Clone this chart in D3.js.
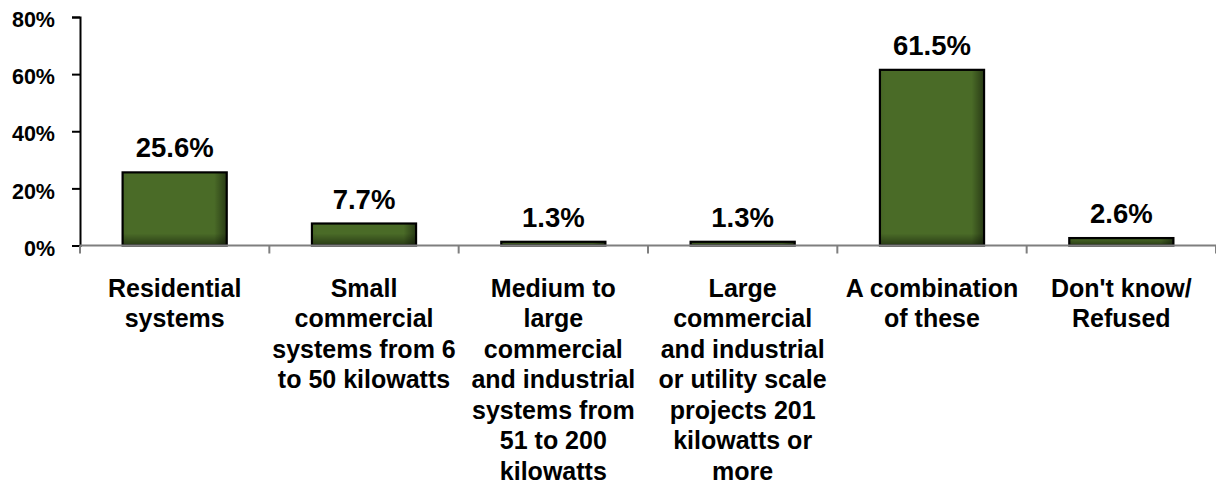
<!DOCTYPE html>
<html>
<head>
<meta charset="utf-8">
<script src="https://cdn.jsdelivr.net/npm/d3@7"></script>
<style>
  html, body { margin: 0; padding: 0; background: #fff; }
  svg { display: block; }
  text { font-family: "Liberation Sans", Arial, sans-serif; font-weight: bold; fill: #000; }
</style>
</head>
<body>
<svg id="chart" width="1216" height="485"></svg>
<script>
const categories = [
  "Residential systems",
  "Small commercial systems from 6 to 50 kilowatts",
  "Medium to large commercial and industrial systems from 51 to 200 kilowatts",
  "Large commercial and industrial or utility scale projects 201 kilowatts or more",
  "A combination of these",
  "Don't know/ Refused"
];
const categoryLines = [
  ["Residential", "systems"],
  ["Small", "commercial", "systems from 6", "to 50 kilowatts"],
  ["Medium to", "large", "commercial", "and industrial", "systems from", "51 to 200", "kilowatts"],
  ["Large", "commercial", "and industrial", "or utility scale", "projects 201", "kilowatts or", "more"],
  ["A combination", "of these"],
  ["Don't know/", "Refused"]
];
const values = [25.6, 7.7, 1.3, 1.3, 61.5, 2.6];
const yTicks = [0, 20, 40, 60, 80];

(function () {
const svg = d3.select("#chart");
const mLeft = 80, mRight = 1216, mTop = 17, mBottom = 245.5;

const x = d3.scaleBand().domain(categories).range([mLeft, mRight]).paddingInner(0.45).paddingOuter(0.225);
const y = d3.scaleLinear().domain([0, 80]).range([mBottom, mTop]);

const defs = svg.append("defs");
const gh = defs.append("linearGradient").attr("id", "shadeH").attr("x1", 0).attr("x2", 1).attr("y1", 0).attr("y2", 0);
gh.append("stop").attr("offset", "0").attr("stop-color", "#000").attr("stop-opacity", 0.04);
gh.append("stop").attr("offset", "0.06").attr("stop-color", "#000").attr("stop-opacity", 0);
gh.append("stop").attr("offset", "0.88").attr("stop-color", "#000").attr("stop-opacity", 0);
gh.append("stop").attr("offset", "1").attr("stop-color", "#000").attr("stop-opacity", 0.45);
const gv = defs.append("linearGradient").attr("id", "shadeV").attr("x1", 0).attr("x2", 0).attr("y1", 0).attr("y2", 1);
gv.append("stop").attr("offset", "0").attr("stop-color", "#000").attr("stop-opacity", 0);
gv.append("stop").attr("offset", "1").attr("stop-color", "#000").attr("stop-opacity", 0.45);

const bars = svg.append("g");
const data = categories.map((c, i) => ({ c, v: values[i] }));
bars.selectAll("rect.base").data(data).join("rect")
  .attr("class", "base")
  .attr("x", d => x(d.c)).attr("width", x.bandwidth())
  .attr("y", d => y(d.v)).attr("height", d => y(0) - y(d.v))
  .attr("fill", "#4a6b27");
bars.selectAll("rect.sh").data(data).join("rect")
  .attr("class", "sh")
  .attr("x", d => x(d.c)).attr("width", x.bandwidth())
  .attr("y", d => y(d.v)).attr("height", d => y(0) - y(d.v))
  .attr("fill", "url(#shadeH)");
bars.selectAll("rect.sv").data(data).join("rect")
  .attr("class", "sv")
  .attr("x", d => x(d.c)).attr("width", x.bandwidth())
  .attr("y", d => y(0) - Math.min(12, y(0) - y(d.v))).attr("height", d => Math.min(12, y(0) - y(d.v)))
  .attr("fill", "url(#shadeV)");
bars.selectAll("rect.outline").data(data).join("rect")
  .attr("class", "outline")
  .attr("x", d => x(d.c)).attr("width", x.bandwidth())
  .attr("y", d => y(d.v)).attr("height", d => y(0) - y(d.v))
  .attr("fill", "none").attr("stroke", "#000").attr("stroke-width", 2.2);

svg.append("g").selectAll("text").data(data).join("text")
  .attr("x", d => x(d.c) + x.bandwidth() / 2)
  .attr("y", d => y(d.v) - 15)
  .attr("text-anchor", "middle")
  .style("font-size", "27.5px")
  .text(d => d.v.toFixed(1) + "%");

const yAxis = svg.append("g").attr("transform", `translate(${mLeft},0)`)
  .call(d3.axisLeft(y).tickValues(yTicks).tickFormat(d => d + "%").tickSize(8).tickPadding(17));
yAxis.attr("font-size", null).attr("font-family", null);
yAxis.select(".domain").attr("stroke", "#000").attr("stroke-width", 2);
yAxis.selectAll(".tick line").attr("stroke", "#000").attr("stroke-width", 2);
yAxis.selectAll(".tick text").style("font-size", "21.5px").attr("dy", "0.45em")
  .style("font-family", "'Liberation Sans', Arial, sans-serif").style("font-weight", "bold");

const step = x.step();
const xg = svg.append("g");
xg.append("line").attr("x1", mLeft).attr("x2", mRight).attr("y1", y(0)).attr("y2", y(0))
  .attr("stroke", "#7f7f7f").attr("stroke-width", 2);
xg.selectAll("line.tk").data(d3.range(categories.length + 1)).join("line")
  .attr("class", "tk")
  .attr("x1", i => mLeft + i * step).attr("x2", i => mLeft + i * step)
  .attr("y1", y(0)).attr("y2", y(0) + 8)
  .attr("stroke", "#7f7f7f").attr("stroke-width", 2);

const lab = svg.append("g").selectAll("text").data(data).join("text")
  .attr("text-anchor", "middle")
  .style("font-size", "25px");
lab.each(function (d, i) {
  const t = d3.select(this);
  categoryLines[i].forEach((ln, j) => {
    t.append("tspan").attr("x", x(d.c) + x.bandwidth() / 2).attr("y", 296.5 + j * 30.55).text(ln);
  });
});
})();
</script>
</body>
</html>
